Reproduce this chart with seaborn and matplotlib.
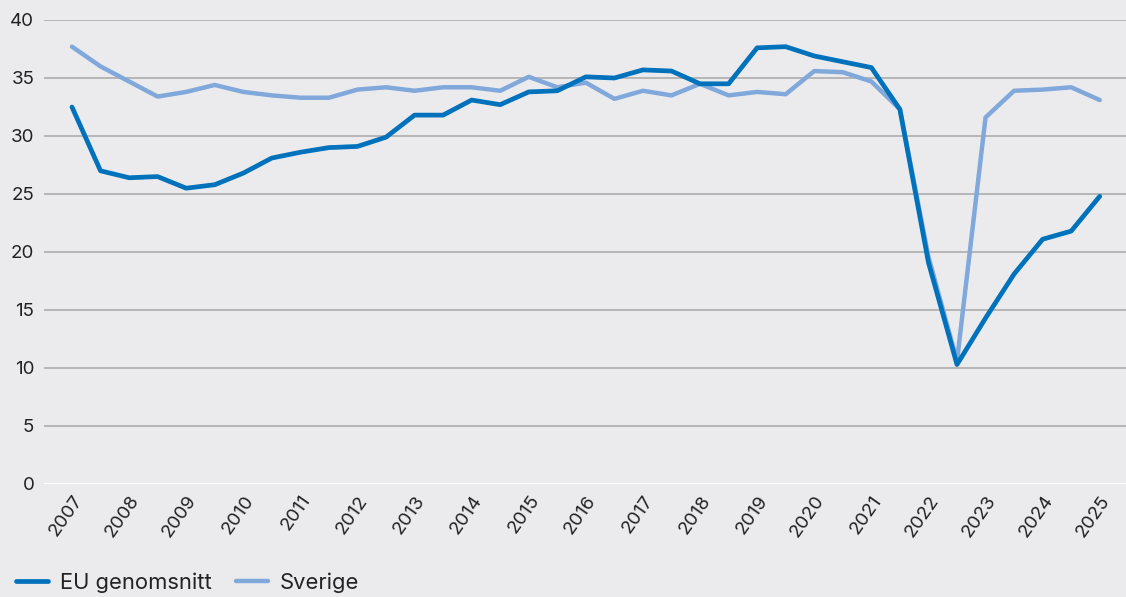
import numpy as np
import pandas as pd
import seaborn as sns
import matplotlib.pyplot as plt

# Halvårsdata 2007-2025
years = list(range(2007, 2026))
eu_values = [32.5, 27.0, 26.4, 26.5, 25.5, 25.8, 26.8, 28.1, 28.6, 29.0,
             29.1, 29.9, 31.8, 31.8, 33.1, 32.7, 33.8, 33.9, 35.1, 35.0,
             35.7, 35.6, 34.5, 34.5, 37.6, 37.7, 36.9, 36.4, 35.9, 32.3,
             19.1, 10.3, 14.3, 18.1, 21.1, 21.8, 24.8]
se_values = [37.7, 36.0, 34.7, 33.4, 33.8, 34.4, 33.8, 33.5, 33.3, 33.3,
             34.0, 34.2, 33.9, 34.2, 34.2, 33.9, 35.1, 34.2, 34.6, 33.2,
             33.9, 33.5, 34.5, 33.5, 33.8, 33.6, 35.6, 35.5, 34.7, 32.3,
             19.6, 10.6, 31.6, 33.9, 34.0, 34.2, 33.1]
series_names = ["EU genomsnitt", "Sverige"]
colors = {"EU genomsnitt": "#0071bb", "Sverige": "#80a8da"}

t = np.arange(len(eu_values)) / 2.0
df = pd.DataFrame({
    "t": np.concatenate([t, t]),
    "varde": eu_values + se_values,
    "serie": [series_names[0]] * len(eu_values) + [series_names[1]] * len(se_values),
})

bg = "#ebebee"
sns.set_theme(style="white")
plt.rcParams["font.family"] = ["Inter", "DejaVu Sans"]
plt.rcParams["text.color"] = "#222222"

fig = plt.figure(figsize=(11.26, 5.97), dpi=100, facecolor=bg)
ax = fig.add_axes([44 / 1126, 1 - 484 / 597, 1 - 44 / 1126, (484 - 20) / 597])
ax.set_facecolor(bg)

# Gridlines
for v in range(5, 41, 5):
    ax.axhline(v, color="#a8a8a8", lw=1.1, zorder=0)
ax.axhline(0, color="white", lw=2.2, zorder=0)

# Sverige under, EU on top
sns.lineplot(data=df[df["serie"] == "Sverige"], x="t", y="varde", color=colors["Sverige"],
             lw=3.2, ax=ax, label="Sverige", solid_capstyle="round", zorder=2)
sns.lineplot(data=df[df["serie"] == "EU genomsnitt"], x="t", y="varde", color=colors["EU genomsnitt"],
             lw=3.4, ax=ax, label="EU genomsnitt", solid_capstyle="round", zorder=3)

ax.set_xlim(-0.49, 18.46)
ax.set_ylim(0, 40)
ax.set_yticks(range(0, 41, 5))
ax.set_xticks(range(len(years)))
ax.set_xticklabels([str(y) for y in years], rotation=55, ha="right",
                   rotation_mode="anchor", fontsize=13.5, color="#222222")
ax.tick_params(axis="y", labelsize=13.5, colors="#222222", length=0, pad=7)
ax.tick_params(axis="x", length=0, pad=6)
ax.set_xlabel("")
ax.set_ylabel("")
for s in ax.spines.values():
    s.set_visible(False)

handles, labels = ax.get_legend_handles_labels()
order = [labels.index(n) for n in series_names]
ax.legend_.remove()
leg = fig.legend([handles[i] for i in order], [labels[i] for i in order],
                 loc="lower left", bbox_to_anchor=(-0.003, -0.026), ncol=2, frameon=False,
                 fontsize=15.8, handlelength=1.45, handletextpad=0.55, columnspacing=1.1)

fig.savefig("out.png", dpi=100, facecolor=bg)
